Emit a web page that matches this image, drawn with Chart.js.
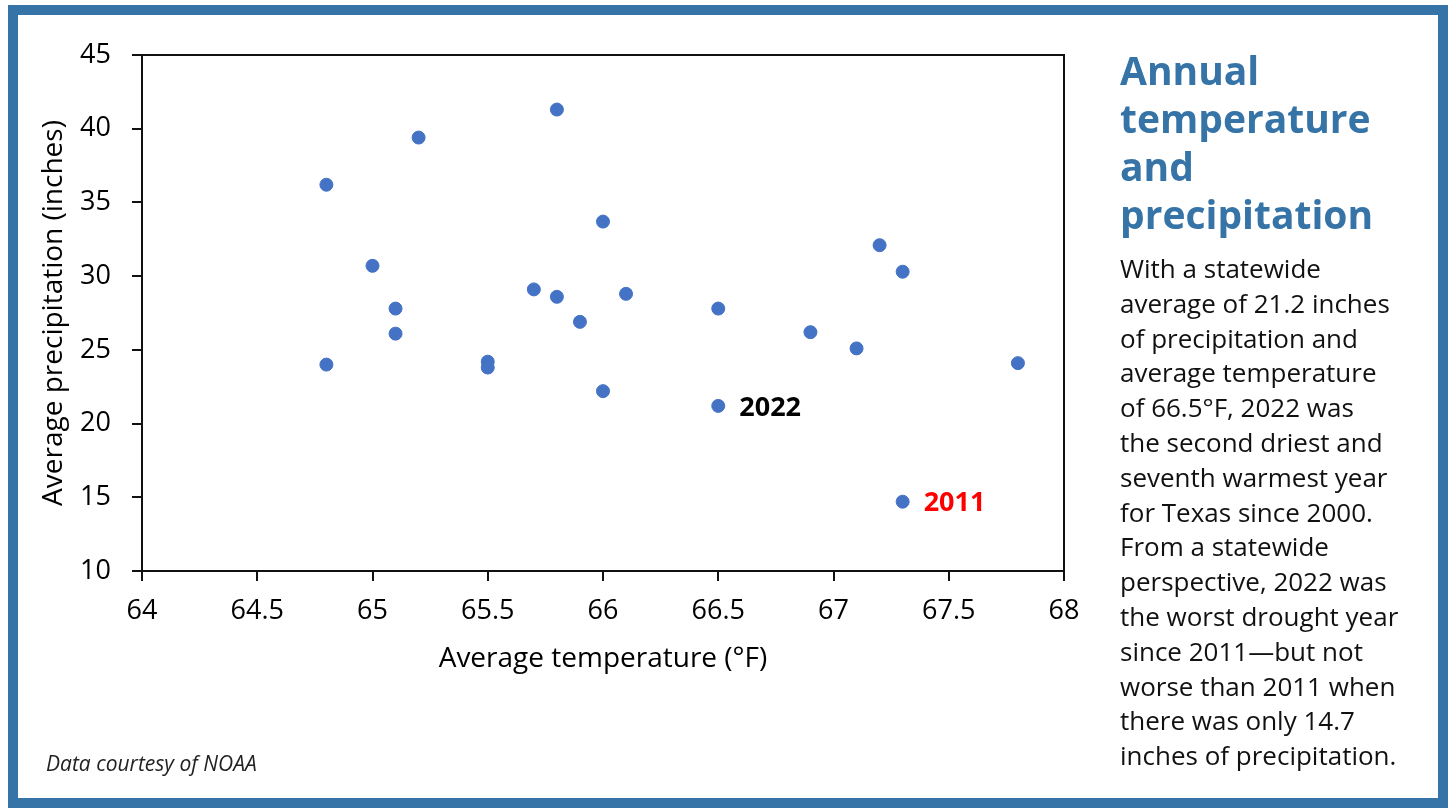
<!DOCTYPE html>
<html>
<head>
<meta charset="utf-8">
<script src="https://cdn.jsdelivr.net/npm/chart.js@4"></script>
<style>
    html, body { margin: 0; padding: 0; background: #fff; }
    body { width: 1450px; height: 808px; position: relative; overflow: hidden; font-family: "Open Sans", "Noto Sans", sans-serif; }
    #frame {
        position: absolute; left: 8px; top: 5px; width: 1420px; height: 783px;
        border: 10px solid #3673a6;
    }
    #chart-wrap { position: absolute; left: 0; top: 0; width: 1450px; height: 808px; }
    #side {
        position: absolute; left: 1120px; top: 46px; width: 320px;
    }
    #side h2 {
        margin: 0; color: #3673a6; font-weight: 700; font-size: 39px; line-height: 48px;
    }
    #side p {
        margin: 0; margin-top: 13px; color: #111; font-size: 26px; line-height: 34.8px;
    }
    #credit {
        position: absolute; left: 46px; top: 749px; font-style: italic; font-size: 21px; color: #222;
    }
</style>
</head>
<body>
<div id="frame"></div>
<div id="chart-wrap"><canvas id="scatter" width="1450" height="808"></canvas></div>
<div id="side">
    <h2>Annual<br>temperature<br>and<br>precipitation</h2>
    <p>With a statewide<br>average of 21.2 inches<br>of precipitation and<br>average temperature<br>of 66.5°F, 2022 was<br>the second driest and<br>seventh warmest year<br>for Texas since 2000.<br>From a statewide<br>perspective, 2022 was<br>the worst drought year<br>since 2011—but not<br>worse than 2011 when<br>there was only 14.7<br>inches of precipitation.</p>
</div>
<div id="credit">Data courtesy of NOAA</div>

<script>
// --- Data ---
const temps  = [64.8, 64.8, 65.0, 65.1, 65.1, 65.2, 65.5, 65.5, 65.7, 65.8, 65.8, 65.9, 66.0, 66.0, 66.1, 66.5, 66.5, 66.9, 67.1, 67.2, 67.3, 67.3, 67.8];
const precip = [36.2, 24.0, 30.7, 27.8, 26.1, 39.4, 24.2, 23.8, 29.1, 41.3, 28.6, 26.9, 33.7, 22.2, 28.8, 27.8, 21.2, 26.2, 25.1, 32.1, 30.3, 14.7, 24.1];

const xTickLabels = ['64', '64.5', '65', '65.5', '66', '66.5', '67', '67.5', '68'];
const yTickLabels = ['10', '15', '20', '25', '30', '35', '40', '45'];

// highlighted years -> index into the arrays above
const labelYears  = ['2022', '2011'];
const labelIndex  = [16, 21];
const labelColors = ['#000000', '#ff0000'];

const POINT_COLOR = '#4472c4';
const FONT = '"Open Sans", "Noto Sans", sans-serif';

// plot box outline (top + right sides like the original)
const plotBox = {
    id: 'plotBox',
    afterDraw(chart) {
        const { ctx, chartArea: a } = chart;
        ctx.save();
        ctx.strokeStyle = '#111';
        ctx.lineWidth = 2;
        ctx.strokeRect(a.left, a.top, a.right - a.left, a.bottom - a.top);
        ctx.restore();
    }
};

// year labels next to the highlighted points
const yearLabels = {
    id: 'yearLabels',
    afterDatasetsDraw(chart) {
        const { ctx } = chart;
        const meta = chart.getDatasetMeta(0);
        ctx.save();
        ctx.font = `bold 27px ${FONT}`;
        ctx.textBaseline = 'middle';
        ctx.textAlign = 'left';
        labelYears.forEach((txt, i) => {
            const pt = meta.data[labelIndex[i]];
            ctx.fillStyle = labelColors[i];
            ctx.fillText(txt, pt.x + 21, pt.y + 2);
        });
        ctx.restore();
    }
};

new Chart(document.getElementById('scatter'), {
    type: 'scatter',
    data: {
        datasets: [{
            data: temps.map((t, i) => ({ x: t, y: precip[i] })),
            backgroundColor: POINT_COLOR,
            borderColor: POINT_COLOR,
            pointRadius: 6.5,
            pointHoverRadius: 6.5
        }]
    },
    options: {
        responsive: false,
        animation: false,
        layout: { padding: { left: 37, top: 55, right: 386, bottom: 132 } },
        plugins: {
            legend: { display: false },
            tooltip: { enabled: false }
        },
        scales: {
            x: {
                type: 'linear',
                min: 64, max: 68,
                afterFit: s => { s.height = 105; },
                border: { display: true, color: '#111', width: 2 },
                grid: { drawOnChartArea: false, drawTicks: true, tickLength: 10, color: '#111', lineWidth: 2 },
                ticks: {
                    stepSize: 0.5,
                    padding: 14,
                    color: '#000',
                    font: { family: FONT, size: 27 },
                    callback: (v, i) => xTickLabels[i]
                },
                title: {
                    display: true,
                    text: 'Average temperature (°F)',
                    color: '#000',
                    font: { family: FONT, size: 28 },
                    padding: 0
                }
            },
            y: {
                type: 'linear',
                min: 10, max: 45,
                afterFit: s => { s.width = 105; },
                border: { display: true, color: '#111', width: 2 },
                grid: { drawOnChartArea: false, drawTicks: true, tickLength: 10, color: '#111', lineWidth: 2 },
                ticks: {
                    stepSize: 5,
                    padding: 21,
                    color: '#000',
                    font: { family: FONT, size: 27 },
                    callback: (v, i) => yTickLabels[i]
                },
                title: {
                    display: true,
                    text: 'Average precipitation (inches)',
                    color: '#000',
                    font: { family: FONT, size: 28 },
                    padding: 0
                }
            }
        }
    },
    plugins: [plotBox, yearLabels]
});
</script>
</body>
</html>
